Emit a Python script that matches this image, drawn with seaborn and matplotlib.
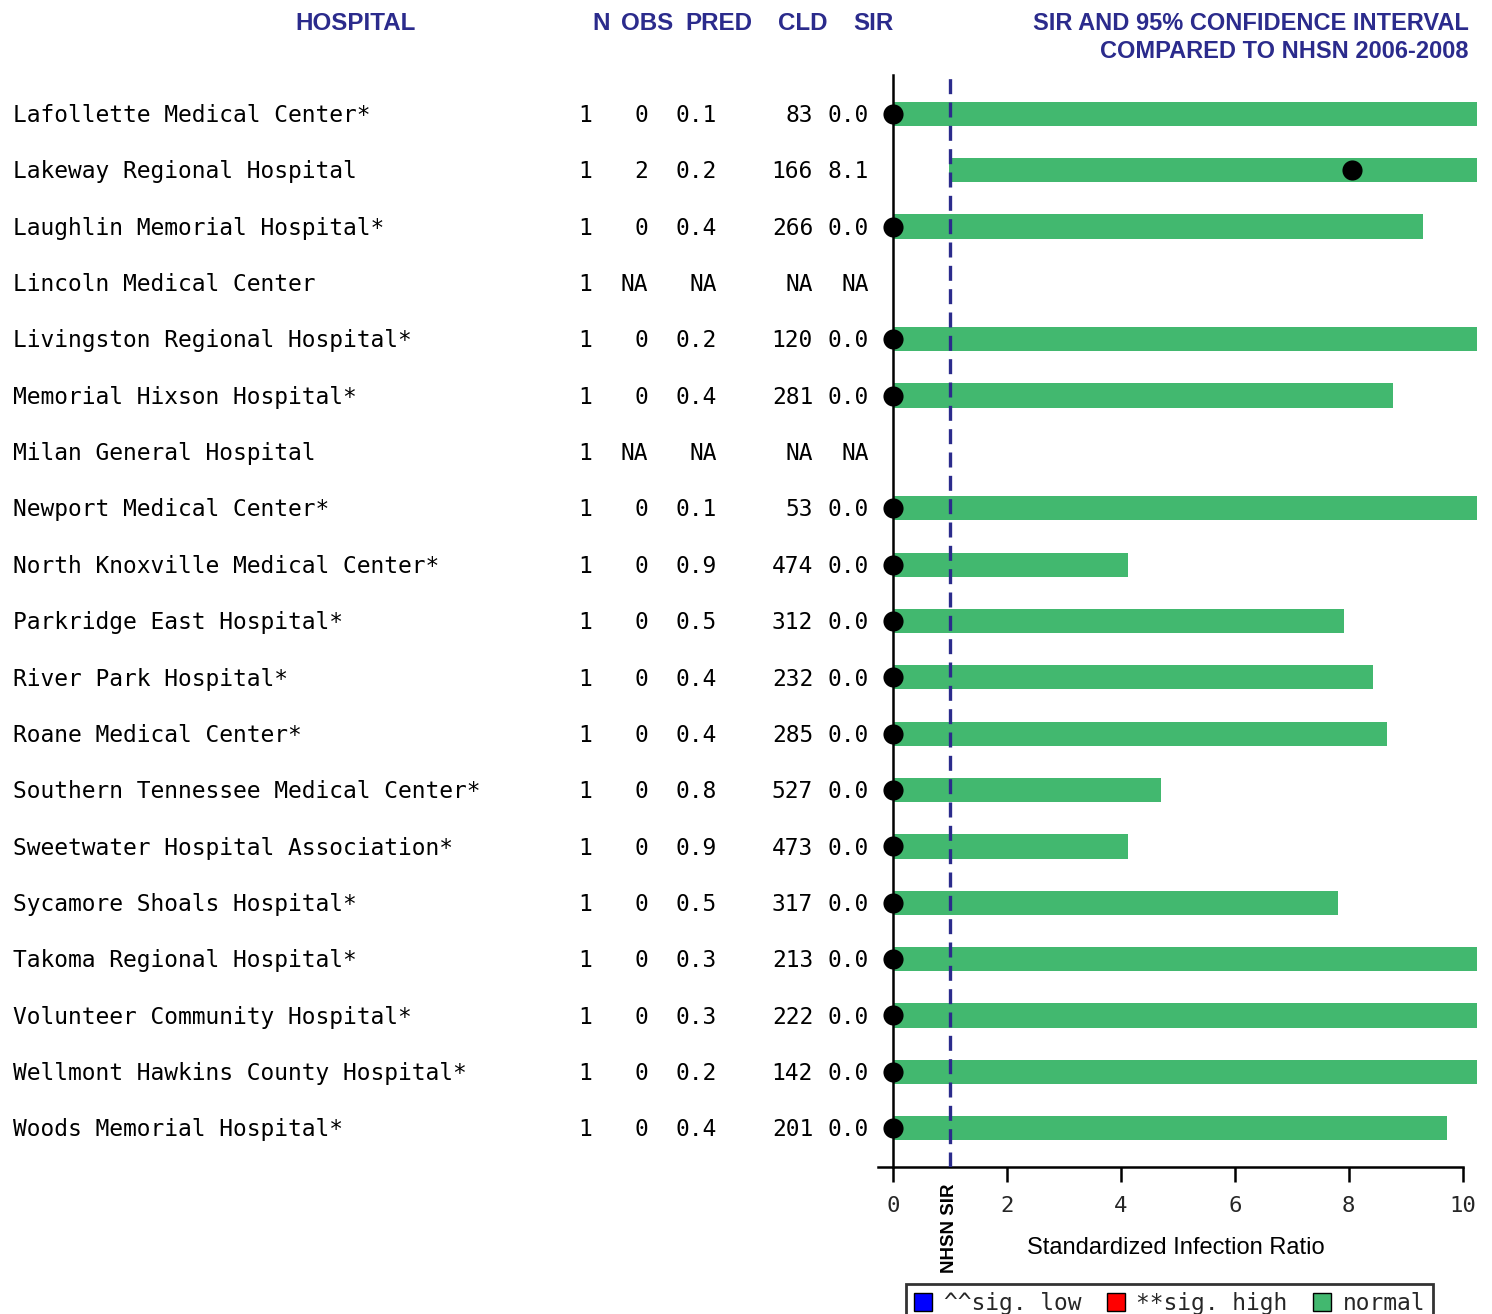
import numpy as np
import pandas as pd
import seaborn as sns
import matplotlib
matplotlib.use("Agg")
import matplotlib.pyplot as plt
from matplotlib.patches import Patch
from matplotlib.transforms import blended_transform_factory

# ---------------- data ----------------
hospitals = [
    "Lafollette Medical Center*",
    "Lakeway Regional Hospital",
    "Laughlin Memorial Hospital*",
    "Lincoln Medical Center",
    "Livingston Regional Hospital*",
    "Memorial Hixson Hospital*",
    "Milan General Hospital",
    "Newport Medical Center*",
    "North Knoxville Medical Center*",
    "Parkridge East Hospital*",
    "River Park Hospital*",
    "Roane Medical Center*",
    "Southern Tennessee Medical Center*",
    "Sweetwater Hospital Association*",
    "Sycamore Shoals Hospital*",
    "Takoma Regional Hospital*",
    "Volunteer Community Hospital*",
    "Wellmont Hawkins County Hospital*",
    "Woods Memorial Hospital*",
]
n_col = ["1", "1", "1", "1", "1", "1", "1", "1", "1", "1", "1", "1", "1", "1", "1", "1", "1", "1", "1"]
obs_col = ["0", "2", "0", "NA", "0", "0", "NA", "0", "0", "0", "0", "0", "0", "0", "0", "0", "0", "0", "0"]
pred_col = ["0.1", "0.2", "0.4", "NA", "0.2", "0.4", "NA", "0.1", "0.9", "0.5", "0.4", "0.4", "0.8", "0.9", "0.5", "0.3", "0.3", "0.2", "0.4"]
cld_col = ["83", "166", "266", "NA", "120", "281", "NA", "53", "474", "312", "232", "285", "527", "473", "317", "213", "222", "142", "201"]
sir_col = ["0.0", "8.1", "0.0", "NA", "0.0", "0.0", "NA", "0.0", "0.0", "0.0", "0.0", "0.0", "0.0", "0.0", "0.0", "0.0", "0.0", "0.0", "0.0"]

sir = [0.0, 8.05, 0.0, np.nan, 0.0, 0.0, np.nan, 0.0, 0.0, 0.0, 0.0, 0.0, 0.0, 0.0, 0.0, 0.0, 0.0, 0.0, 0.0]
ci_low = [0.0, 0.99, 0.0, np.nan, 0.0, 0.0, np.nan, 0.0, 0.0, 0.0, 0.0, 0.0, 0.0, 0.0, 0.0, 0.0, 0.0, 0.0, 0.0]
ci_high = [36.9, 22.0, 9.30, np.nan, 18.5, 8.77, np.nan, 36.9, 4.12, 7.91, 8.42, 8.67, 4.70, 4.12, 7.81, 12.3, 12.3, 18.5, 9.72]
nhsn_sir = 1.0
xticks = [0, 2, 4, 6, 8, 10]

# ---------------- style ----------------
sns.set_theme(style="white")
plt.rcParams["font.family"] = ["DejaVu Sans"]
MONO = "DejaVu Sans Mono"
HEAD = "Liberation Sans"
NAVY = "#2b2b8c"
GREEN = "#42b86f"
W, H = 1492, 1314

df = pd.DataFrame({"hospital": hospitals, "sir": sir, "lo": ci_low, "hi": ci_high})
df["y"] = np.arange(len(df))

fig = plt.figure(figsize=(W / 100, H / 100), dpi=100)
ax = fig.add_axes([878 / W, 1 - 1167 / H, (1477 - 878) / W, (1167 - 75) / H])

# CI bars
valid = df.dropna(subset=["hi"])
ax.barh(valid["y"], valid["hi"] - valid["lo"], left=valid["lo"], height=0.43,
        color=GREEN, edgecolor="none", zorder=2)

# NHSN reference line
ax.axvline(nhsn_sir, color=NAVY, lw=2.4, linestyle=(0, (4.5, 2.5)), zorder=3)

# SIR points
sns.scatterplot(data=df.dropna(subset=["sir"]), x="sir", y="y", color="black",
                s=210, edgecolor="black", linewidth=0, ax=ax, zorder=5, clip_on=False)

ax.set_xlim(-0.26, 10.25)
ax.set_ylim(len(df) - 1 + 0.69, -0.69)
ax.set_xlabel("")
ax.set_ylabel("")
ax.set_yticks([])
ax.set_xticks(xticks)
ax.set_xticklabels([str(t) for t in xticks], fontfamily=MONO, fontsize=16)
ax.tick_params(axis="x", direction="out", length=11, width=1.8, color="black",
               pad=10, bottom=True)
for s in ["top", "right"]:
    ax.spines[s].set_visible(False)
ax.spines["left"].set_position(("data", 0))
ax.spines["left"].set_color("black")
ax.spines["left"].set_linewidth(1.8)
ax.spines["bottom"].set_color("black")
ax.spines["bottom"].set_linewidth(1.8)
ax.spines["bottom"].set_bounds(-0.26, 10)
ax.grid(False)

# table columns
tr = blended_transform_factory(fig.transFigure, ax.transData)
fs = 16.5
for i in range(len(df)):
    ax.text(13 / W, i + 0.03, hospitals[i], transform=tr, ha="left", va="center",
            fontfamily=MONO, fontsize=fs, color="black")
    for col, xr in [(n_col, 592), (obs_col, 648), (pred_col, 717), (cld_col, 813), (sir_col, 869)]:
        ax.text(xr / W, i + 0.03, col[i], transform=tr, ha="right", va="center",
                fontfamily=MONO, fontsize=fs, color="black")

# headers
hk = dict(fontfamily=HEAD, fontweight="bold", fontsize=17.4, color=NAVY, va="center")
fig.text(356 / W, 1 - 23 / H, "HOSPITAL", ha="center", **hk)
for lab, xc in [("N", 601), ("OBS", 647), ("PRED", 719), ("CLD", 803), ("SIR", 873)]:
    fig.text(xc / W, 1 - 23 / H, lab, ha="center", **hk)
hk2 = dict(hk, fontsize=17.0)
fig.text(1469 / W, 1 - 23 / H, "SIR AND 95% CONFIDENCE INTERVAL", ha="right", **hk2)
fig.text(1469 / W, 1 - 52 / H, "COMPARED TO NHSN 2006-2008", ha="right", **hk2)

# axis title and NHSN label
fig.text(1176 / W, 1 - 1248 / H, "Standardized Infection Ratio", ha="center", va="center",
         fontfamily=HEAD, fontsize=17, color="black")
fig.text(950 / W, 1 - 1228 / H, "NHSN SIR", ha="center", va="center", rotation=90,
         fontfamily=HEAD, fontweight="bold", fontsize=13.5, color="black")

# legend
handles = [Patch(facecolor="blue", edgecolor="black", label="^^sig. low"),
           Patch(facecolor="red", edgecolor="black", label="**sig. high"),
           Patch(facecolor=GREEN, edgecolor="black", label="normal")]
leg = fig.legend(handles=handles, loc="upper left", bbox_to_anchor=(906 / W, 1 - 1284 / H),
                 ncol=3, frameon=True, fancybox=False, prop={"family": MONO, "size": 16.5},
                 handlelength=0.8, handleheight=0.8, handletextpad=0.5, columnspacing=1.1,
                 borderpad=0.35, borderaxespad=0)
leg.get_frame().set_edgecolor("black")
leg.get_frame().set_linewidth(2)

fig.savefig("out.png", dpi=100, facecolor="white")
